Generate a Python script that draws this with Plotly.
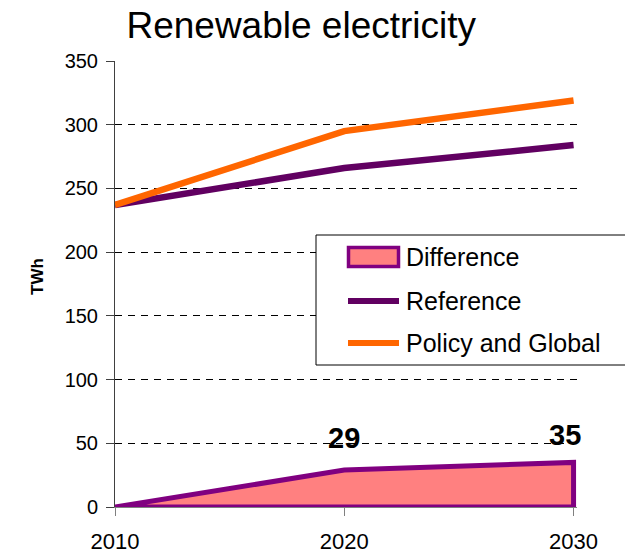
import plotly.graph_objects as go

# Renewable electricity generation, TWh
years = [2010, 2020, 2030]
reference = [237, 266, 284]
policy_global = [237, 295, 319]
difference = [0, 29, 35]

FONT = "Arial, Liberation Sans, sans-serif"
PURPLE = "#800080"
DARK_PURPLE = "#610061"
ORANGE = "#FF6600"
PINK = "#FF8080"

W, H = 625, 555
ML, MR, MT, MB = 115, 48, 61, 48
PW, PH = W - ML - MR, H - MT - MB


def px(x):
    """Pixel column -> paper x."""
    return (x - ML) / PW


def py(y):
    """Pixel row -> paper y."""
    return (H - MB - y) / PH


fig = go.Figure()

# Difference area, outlined all the way round (closed back along the baseline)
area_x = years + [years[-1], years[0]]
area_y = difference + [0, 0]
fig.add_trace(go.Scatter(
    x=area_x, y=area_y, mode="lines", fill="toself",
    fillcolor=PINK, line=dict(color=PURPLE, width=5),
    name="Difference", hoverinfo="skip", showlegend=False,
))
fig.add_trace(go.Scatter(
    x=years, y=reference, mode="lines",
    line=dict(color=DARK_PURPLE, width=6.5),
    name="Reference", showlegend=False,
))
fig.add_trace(go.Scatter(
    x=years, y=policy_global, mode="lines",
    line=dict(color=ORANGE, width=6.5),
    name="Policy and Global", showlegend=False,
))

# Value labels above the difference area
for i, (yr, v) in enumerate(zip(years, difference)):
    if v == 0:
        continue
    fig.add_annotation(
        x=yr, y=v, text=f"<b>{v}</b>", showarrow=False,
        yshift=32 if i == 1 else 27, xshift=0 if i == 1 else -9,
        font=dict(family=FONT, size=29, color="black"),
    )

# Legend box with its three keys
shapes = [dict(
    type="rect", xref="paper", yref="paper",
    x0=px(316), x1=px(640), y0=py(365), y1=py(235),
    line=dict(color="black", width=1), fillcolor="white", layer="above",
)]
legend_rows = [
    ("Difference", 257, "area"),
    ("Reference", 301, DARK_PURPLE),
    ("Policy and Global", 343, ORANGE),
]
for label, row, style in legend_rows:
    if style == "area":
        shapes.append(dict(
            type="rect", xref="paper", yref="paper",
            x0=px(348.5), x1=px(398.5), y0=py(row + 9.5), y1=py(row - 9.5),
            line=dict(color=PURPLE, width=3.5), fillcolor=PINK, layer="above",
        ))
    else:
        shapes.append(dict(
            type="line", xref="paper", yref="paper",
            x0=px(348), x1=px(399), y0=py(row), y1=py(row),
            line=dict(color=style, width=6), layer="above",
        ))
    fig.add_annotation(
        xref="paper", yref="paper", x=px(404), y=py(row),
        xanchor="left", yanchor="middle", showarrow=False, text=label,
        font=dict(family=FONT, size=25, color="black"),
    )

# y-axis title
fig.add_annotation(
    xref="paper", yref="paper", x=px(37), y=py(277),
    xanchor="center", yanchor="middle", showarrow=False, textangle=-90,
    text="<b>TWh</b>", font=dict(family=FONT, size=17, color="black"),
)

fig.update_layout(
    width=W, height=H,
    margin=dict(l=ML, r=MR, t=MT, b=MB),
    paper_bgcolor="white", plot_bgcolor="white",
    title=dict(
        text="Renewable electricity", x=0.482, xanchor="center",
        y=1 - 25 / H, yanchor="middle",
        font=dict(family=FONT, size=37, color="black"),
    ),
    showlegend=False,
    shapes=shapes,
    xaxis=dict(
        range=[2010, 2030.15], tickvals=years, ticktext=[str(y) for y in years],
        showgrid=False, zeroline=False, automargin=False,
        showline=True, linecolor="#808080", linewidth=1,
        ticks="outside", ticklen=8, tickcolor="#808080",
        ticklabelstandoff=7,
        tickfont=dict(family=FONT, size=22, color="black"),
    ),
    yaxis=dict(
        range=[0, 350], dtick=50, automargin=False,
        showgrid=True, gridcolor="black", gridwidth=1, griddash="7px,6px",
        zeroline=False,
        showline=True, linecolor="#404040", linewidth=1,
        ticks="outside", ticklen=8, tickcolor="#404040",
        ticklabelstandoff=4,
        tickfont=dict(family=FONT, size=20, color="black"),
    ),
)

fig.write_html("out.html")
